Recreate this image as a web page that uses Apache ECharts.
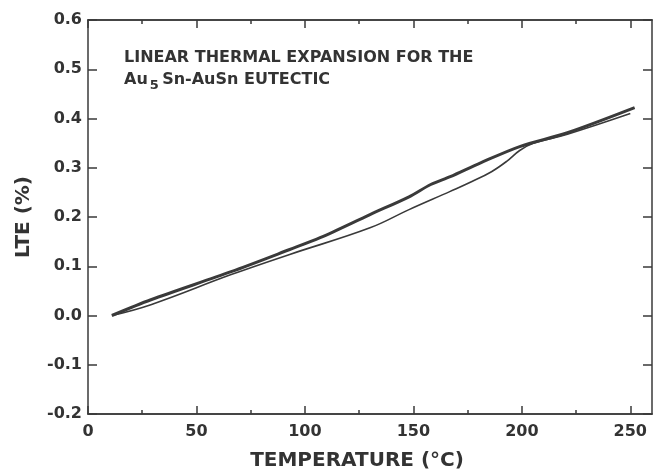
<!DOCTYPE html>
<html>
<head>
<meta charset="utf-8">
<script src="https://cdn.jsdelivr.net/npm/echarts@6/dist/echarts.min.js"></script>
<style>
  html, body { margin: 0; padding: 0; background: #fff; }
  #main { width: 654px; height: 472px; }
</style>
</head>
<body>
<div id="main"></div>
<script>
// heating curve (thick) and cooling curve (thin)
var heatT = [11, 29, 66, 93, 107, 130, 148, 158, 167, 181, 199, 221, 252];
var heatLTE = [0.0, 0.032, 0.089, 0.134, 0.158, 0.205, 0.241, 0.266, 0.282, 0.31, 0.343, 0.371, 0.422];
var coolT = [11, 29, 66, 93, 130, 148, 167, 177, 186, 193, 199, 205, 221, 250];
var coolLTE = [0.0, 0.022, 0.083, 0.124, 0.178, 0.215, 0.252, 0.272, 0.292, 0.313, 0.335, 0.349, 0.368, 0.41];

var xMajor = [0, 50, 100, 150, 200, 250];
var xMinor = [25, 75, 125, 175, 225];

var myChart = echarts.init(document.getElementById('main'));

function pairs(xs, ys) {
    var out = [];
    for (var i = 0; i < xs.length; i++) {
        out.push([xs[i], ys[i]]);
    }
    return out;
}

var ink = '#3a3a3a';
var font = 'DejaVu Sans';

function xAx(pos, ticks, len, labels) {
    return {
        type: 'value',
        position: pos,
        min: 0,
        max: 260,
        interval: 50,
        splitLine: { show: false },
        axisLine: { show: true, onZero: false, lineStyle: { color: ink, width: 1.5 } },
        axisTick: { show: true, inside: true, length: len, customValues: ticks, lineStyle: { color: ink, width: 1.5 } },
        axisLabel: {
            show: labels,
            customValues: xMajor,
            margin: 10,
            color: '#333',
            fontFamily: font,
            fontWeight: 'bold',
            fontSize: 16
        }
    };
}

var xAxes = [xAx('bottom', xMajor, 8, true), xAx('bottom', xMinor, 4, false),
             xAx('top', xMajor, 8, false), xAx('top', xMinor, 4, false)];
xAxes[0].name = 'TEMPERATURE (°C)';
xAxes[0].nameLocation = 'middle';
xAxes[0].nameGap = 37;
xAxes[0].nameTextStyle = { color: '#333', fontFamily: font, fontWeight: 'bold', fontSize: 20, padding: [0, 26, 0, 0] };

function yAx(pos, labels) {
    return {
        type: 'value',
        position: pos,
        min: -0.2,
        max: 0.6,
        interval: 0.1,
        splitLine: { show: false },
        axisLine: { show: true, onZero: false, lineStyle: { color: ink, width: 1.5 } },
        axisTick: { show: true, inside: true, length: 9, lineStyle: { color: ink, width: 1.5 } },
        axisLabel: {
            show: labels,
            margin: 6,
            color: '#333',
            fontFamily: font,
            fontWeight: 'bold',
            fontSize: 16,
            formatter: function (v) { return v.toFixed(1); }
        }
    };
}

var yAxes = [yAx('left', true), yAx('right', false)];
yAxes[0].name = 'LTE (%)';
yAxes[0].nameLocation = 'middle';
yAxes[0].nameGap = 54;
yAxes[0].nameTextStyle = { color: '#333', fontFamily: font, fontWeight: 'bold', fontSize: 20 };

var option = {
    backgroundColor: '#fff',
    animation: false,
    grid: { left: 88, right: 2, top: 20, bottom: 58, containLabel: false, outerBoundsMode: 'none' },
    xAxis: xAxes,
    yAxis: yAxes,
    graphic: [
        {
            type: 'text',
            left: 124,
            top: 50,
            style: {
                text: 'LINEAR THERMAL EXPANSION FOR THE',
                fill: '#333',
                font: 'bold 16px "DejaVu Sans"'
            }
        },
        {
            type: 'text',
            left: 124,
            top: 72,
            style: {
                text: '{a|Au}{s|5} {a|Sn-AuSn EUTECTIC}',
                rich: {
                    a: { fill: '#333', fontFamily: font, fontWeight: 'bold', fontSize: 16, verticalAlign: 'top' },
                    s: { fill: '#333', fontFamily: font, fontWeight: 'bold', fontSize: 13, padding: [7, 0, 0, 2] }
                }
            }
        }
    ],
    series: [
        {
            name: 'heating',
            type: 'line',
            smooth: 0.3,
            symbol: 'none',
            data: pairs(heatT, heatLTE),
            lineStyle: { color: ink, width: 3 }
        },
        {
            name: 'cooling',
            type: 'line',
            smooth: 0.4,
            symbol: 'none',
            data: pairs(coolT, coolLTE),
            lineStyle: { color: ink, width: 1.6 }
        }
    ]
};
myChart.setOption(option);
</script>
</body>
</html>
